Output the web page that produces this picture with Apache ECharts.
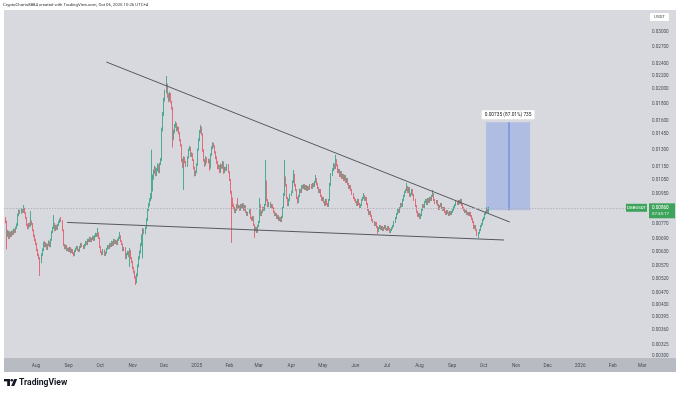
<!DOCTYPE html>
<html><head><meta charset="utf-8">
<script src="https://cdn.jsdelivr.net/npm/echarts@6/dist/echarts.min.js"></script>
<style>html,body{margin:0;padding:0;background:#fff}#c{width:680px;height:395px}</style>
</head><body><div id="c"></div>
<script>
// ---- data (prices in units of 0.00001 USDT), daily candles from 2024-07-03 ----
const firstDate = '2024-07-03';
const firstOpen = 795;
const closes = [].concat(
 [778,709,724,694,719,704,724,714,734,724,745,761,817,841,829,847,835,853,829,800,761,745,767,756,778,767,734,704,684],
 [665,637,615,602,585,615,637,670,655,665,642,660,674,655,684,724,745,767,734,756,740,761,778,789,783,734,660,646,655,637,642],
 [633,646,628,637,624,615,633,642,651,637,633,651,665,655,646,660,674,665,684,679,694,679,689,699,684,704,714,704,719,694],
 [651,628,619,637,615,624,642,655,646,665,655,674,660,684,670,679,665,684,694,704,679,665,637,646,602,619,628,611,633,602,585],
 [561,545,526,507,533,569,602,628,660,704,734,719,745,789,847,877,909,922,976,1063,1109,1141,1086,1125,1166,1109,1174,1208,1495,1663],
 [1850,1959,2058,1904,1850,1931,1824,1748,1412,1474,1538,1560,1495,1516,1464,1392,1344,1208,1166,1226,1191,1158,1226,1297,1316,1243,1261,1208,1141,1086,1109],
 [1166,1297,1392,1474,1516,1453,1297,1208,1166,1226,1191,1208,1141,1252,1316,1353,1334,1279,1226,1191,1141,1158,1109,1166,1141,1191,1109,1141,1125,1166,1109],
 [1048,962,909,877,859,835,847,877,859,871,847,877,859,883,847,871,835,817,829,847,800,789,806,761,734,745,724,756],
 [778,877,817,835,859,847,877,1033,909,871,890,865,877,859,835,817,823,800,811,789,800,783,806,859,942,1063,1011,922,877,909,942],
 [962,1033,1086,1011,976,922,896,935,976,962,1004,990,1011,983,1004,976,997,983,1011,990,1018,1004,1033,1056,1018,990,962,976,935,909],
 [922,896,877,909,883,871,909,1011,1086,1125,1166,1141,1208,1166,1109,1125,1078,1109,1063,1086,1048,1078,1033,1056,1018,990,1004,976,949,922,909],
 [896,877,909,883,865,877,909,922,935,909,922,883,847,823,835,811,789,778,761,772,750,729,745,756,740,750,734,745,756,740],
 [734,750,740,724,734,745,756,778,800,823,847,835,859,883,871,909,935,962,976,997,962,990,935,949,976,942,909,871,835,811,823],
 [800,817,847,877,865,896,909,883,916,896,922,909,935,949,909,890,903,877,853,871,883,859,847,859,835,823,841,829,817,835,823],
 [835,847,865,877,896,883,903,890,909,877,859,847,835,841,823,829,817,829,811,794,778,745,756,734,714,719,734,756,767,789],
 [800,823,835,853,835,860]
);
const highs = [].concat(
 [805,785,735,730,728,726,732,731,742,740,752,770,825,850,848,856,852,877,860,834,805,768,772,774,840,785,772,738,710],
 [690,670,642,620,606,622,644,676,678,672,668,666,682,678,690,730,752,817,772,762,762,768,785,797,806,788,738,665,662,660,648],
 [648,652,650,643,641,628,638,648,656,655,642,656,670,669,660,665,680,678,690,690,700,698,695,705,703,710,720,718,745,722],
 [698,655,632,642,640,630,647,660,659,670,669,680,678,690,688,685,683,690,700,724,708,683,668,651,650,624,633,632,646,637,606],
 [590,566,550,530,540,575,610,635,668,712,745,742,752,798,856,890,920,955,1300,1090,1130,1160,1150,1140,1180,1172,1185,1225,1520,1700],
 [1880,1990,2195,2080,1940,1960,1945,1840,1760,1500,1560,1590,1575,1535,1530,1475,1400,1350,1220,1240,1235,1200,1240,1310,1335,1325,1275,1268,1215,1150,1120],
 [1180,1310,1410,1495,1549,1530,1460,1305,1215,1240,1232,1220,1215,1265,1330,1370,1365,1340,1285,1240,1200,1170,1165,1178,1172,1200,1195,1150,1150,1175,1172],
 [1115,1055,970,925,885,866,855,884,922,878,876,884,883,890,888,877,876,840,835,853,851,806,812,810,765,752,750,762],
 [784,922,882,842,866,865,884,1208,1045,915,897,896,884,882,864,840,830,828,818,816,806,805,812,866,955,1208,1075,1018,928,918,950],
 [970,1045,1125,1095,1018,982,930,942,985,983,1011,1011,1018,1018,1011,1011,1004,1004,1018,1018,1026,1026,1041,1086,1063,1026,997,983,983,942],
 [929,929,903,916,916,890,916,1026,1100,1140,1183,1175,1252,1215,1172,1135,1133,1117,1115,1094,1094,1086,1086,1063,1063,1026,1011,1011,983,955,929],
 [916,903,916,916,890,883,916,929,955,942,929,929,890,853,841,841,817,794,783,778,778,756,750,761,761,756,756,750,761,761],
 [745,756,756,745,740,750,761,783,806,829,853,853,865,890,890,916,942,969,983,1026,1004,997,997,955,983,983,949,916,877,841,829],
 [829,823,853,883,883,903,916,916,922,922,929,929,942,976,955,916,909,909,883,877,890,890,865,865,865,841,847,847,835,841,841],
 [841,853,871,883,903,903,909,909,916,916,883,865,853,847,847,835,835,835,835,817,800,783,761,761,740,724,740,761,772,794],
 [806,829,841,865,859,866]
);
const lows = [].concat(
 [770,640,700,688,690,698,700,708,710,718,720,740,755,810,822,824,828,830,824,795,755,738,740,750,752,760,728,698,678],
 [660,632,610,596,530,580,610,632,650,650,638,637,655,650,650,680,718,740,728,730,734,735,756,772,776,728,655,640,641,632,632],
 [628,628,622,624,619,608,611,628,638,633,628,629,646,650,641,642,655,660,660,674,674,674,674,684,679,680,698,699,700,689],
 [646,623,613,615,611,610,620,638,641,642,650,651,655,656,665,665,660,660,680,689,674,660,632,632,597,598,614,606,565,597,580],
 [556,540,520,497,503,528,564,596,622,655,600,712,712,740,782,840,870,900,915,965,1050,1095,1075,1078,1115,1100,1100,1165,1200,1480],
 [1650,1830,1940,1880,1820,1835,1810,1730,1320,1390,1460,1520,1480,1480,1450,1380,1330,1190,1140,976,1180,1150,1150,1220,1290,1235,1235,1200,1130,1075,1078],
 [1100,1160,1290,1380,1460,1440,1280,1195,1150,1160,1180,1180,1120,1135,1245,1305,1320,1265,1215,1175,1130,1132,1100,1102,1135,1135,1095,1100,1118,1118,1100],
 [1040,950,670,865,850,828,828,842,853,852,841,842,853,854,842,842,829,811,812,824,794,783,784,756,694,728,719,719],
 [750,772,811,811,829,841,842,871,900,862,865,859,859,853,829,811,811,794,794,783,783,777,778,800,853,935,1000,915,870,870,902],
 [935,955,1025,1000,968,915,885,890,928,955,955,983,983,976,976,969,969,976,976,983,983,997,997,1026,1011,983,955,955,929,903],
 [903,890,871,871,877,865,865,903,1004,1078,1117,1130,1133,1155,1100,1100,1070,1070,1055,1056,1041,1041,1026,1026,1011,983,983,969,942,916,903],
 [890,871,871,877,859,859,871,903,916,903,903,877,841,817,817,806,783,772,756,756,745,714,724,740,734,734,729,729,740,734],
 [729,729,734,719,719,729,740,750,772,794,817,829,829,853,865,865,903,929,955,969,955,955,929,929,942,935,903,865,829,806,806],
 [794,794,811,841,859,859,890,877,877,890,890,903,903,929,903,883,883,871,847,847,865,853,841,841,829,817,817,823,811,811,817],
 [817,829,841,859,871,877,877,883,883,871,853,841,829,829,817,817,811,811,806,789,772,740,740,729,704,694,714,729,750,761],
 [783,794,817,829,829,829]
);
const priceUnit = 0.00001;

// axis ticks
const priceTicks = [0.03000,0.02700,0.02400,0.02200,0.02000,0.01800,0.01600,0.01450,0.01300,0.01150,0.01050,0.00950,0.00770,0.00690,0.00630,0.00570,0.00520,0.00470,0.00430,0.00395,0.00360,0.00325,0.00300];
const monthTickDates = ['2024-08-01','2024-09-01','2024-10-01','2024-11-01','2024-12-01','2025-01-01','2025-02-01','2025-03-01','2025-04-01','2025-05-01','2025-06-01','2025-07-01','2025-08-01','2025-09-01','2025-10-01','2025-11-01','2025-12-01','2026-01-01','2026-02-01','2026-03-01'];
const monthTickLabels = ['Aug','Sep','Oct','Nov','Dec','2025','Feb','Mar','Apr','May','Jun','Jul','Aug','Sep','Oct','Nov','Dec','2026','Feb','Mar'];

// drawings
const upperLineDates = ['2024-10-07T00:00Z','2025-10-26T00:00Z'];
const upperLinePrices = [0.02424, 0.00777];
const lowerLineDates = ['2024-08-30T12:00Z','2025-10-20T12:00Z'];
const lowerLinePrices = [0.00775, 0.00684];
const boxDates = ['2025-10-03T10:00Z','2025-11-14T08:00Z'];
const boxMidDate = '2025-10-25T06:00Z';
const boxPrices = [0.00845, 0.01580];
const boxLabel = '0.00735 (87.01%) 735';
const currentPrice = 0.00860;
const symbolName = 'DGBUSDT';
const countdown = '07:33:17';
const xRange = ['2024-07-01T13:00Z','2026-03-05T14:00Z'];
const yRange = [0.0029566, 0.035085];

// ---- build ----
const DAY = 86400000;
const t0 = Date.parse(firstDate + 'T00:00Z');
const L = Math.log;
const candles = closes.map((c, i) => {
  const o = i ? closes[i - 1] : firstOpen;
  const h = Math.max(highs[i], o, c), l = Math.min(lows[i], o, c);
  return [t0 + i * DAY, L(o * priceUnit), L(c * priceUnit), L(l * priceUnit), L(h * priceUnit)];
});
const tickTimes = monthTickDates.map(d => Date.parse(d + 'T00:00Z'));
const tp = d => Date.parse(d);
const monthLabel = v => {
  let best = -1, bd = Infinity;
  tickTimes.forEach((t, k) => { const d = Math.abs(t - v); if (d < bd) { bd = d; best = k; } });
  return bd < DAY ? monthTickLabels[best] : '';
};

const chart = echarts.init(document.getElementById('c'));
const baseGraphic = [
  {type:'rect', id:'panel', z:-10, shape:{x:4,y:10,width:672,height:362}, style:{fill:'#d7d9de'}},
  {type:'rect', id:'band', z:-9, shape:{x:4,y:358,width:672,height:14}, style:{fill:'#b8bbc2'}},
  {type:'text', id:'hdr', z:100, style:{x:3,y:5,text:'CryptoCharts8884 created with TradingView.com, Oct 06, 2025 10:26 UTC+4',fontSize:4.3,fontFamily:'Roboto',fill:'#333',verticalAlign:'middle'}},
  {type:'rect', id:'usdtbg', z:100, shape:{x:650,y:13,width:19,height:8,r:1}, style:{fill:'#ffffff'}},
  {type:'text', id:'usdt', z:101, style:{x:659.5,y:17,text:'USDT',fontSize:4.4,fontFamily:'Roboto',fill:'#444',align:'center',verticalAlign:'middle'}},
  {type:'rect', id:'lg1', z:100, shape:{x:4,y:379,width:6,height:2.4}, style:{fill:'#131722'}},
  {type:'rect', id:'lg2', z:100, shape:{x:7.2,y:379,width:2.8,height:7}, style:{fill:'#131722'}},
  {type:'circle', id:'lg3', z:100, shape:{cx:11.8,cy:380.3,r:1.3}, style:{fill:'#131722'}},
  {type:'polygon', id:'lg4', z:100, shape:{points:[[14.2,379],[17.2,379],[14.2,386],[11.2,386]]}, style:{fill:'#131722'}},
  {type:'text', id:'tv', z:100, style:{x:19,y:383,text:'TradingView',fontSize:8.6,fontWeight:'bold',fontFamily:'Roboto',fill:'#131722',verticalAlign:'middle'}}
];

chart.setOption({
  animation:false,
  backgroundColor:'#ffffff',
  grid:{left:4,right:33,top:10,bottom:37,show:false},
  xAxis:{type:'value', min:tp(xRange[0]), max:tp(xRange[1]),
    axisLine:{show:false}, axisTick:{show:false}, splitLine:{show:false},
    axisLabel:{customValues:tickTimes, fontSize:4.8, fontFamily:'Roboto', color:'#4a4d57', margin:5, hideOverlap:false,
      formatter:monthLabel}},
  yAxis:{type:'value', position:'right', min:L(yRange[0]), max:L(yRange[1]),
    axisLine:{show:false}, axisTick:{show:false}, splitLine:{show:false},
    axisLabel:{customValues:priceTicks.map(L), fontSize:4.6, fontFamily:'Roboto', color:'#4a4d57', margin:5, align:'left',
      formatter:(v)=>Math.exp(v).toFixed(5)}},
  graphic: baseGraphic,
  series:[
    {type:'candlestick', name:symbolName, data:candles, barWidth:0.9,
     itemStyle:{color:'#2a9e80', color0:'#e2525f', borderColor:'#2a9e80', borderColor0:'#e2525f', borderWidth:0.8},
     markLine:{silent:true, symbol:['none','none'], label:{show:false},
       lineStyle:{color:'#b0b5bc', type:[1.5,1.5], width:1},
       data:[{yAxis:L(currentPrice)}]},
     markArea:{silent:true,
       itemStyle:{color:'rgba(52,100,240,0.24)'},
       label:{show:true, position:'top', distance:3, formatter:boxLabel, fontSize:4.8, fontFamily:'Roboto', color:'#222',
              backgroundColor:'#ffffff', padding:[2,3], borderRadius:1},
       data:[[{coord:[tp(boxDates[0]), L(boxPrices[0])]},{coord:[tp(boxDates[1]), L(boxPrices[1])]}]]}},
    {type:'line', data:upperLineDates.map((d,i)=>[tp(d), L(upperLinePrices[i])]), symbol:'none', silent:true,
     lineStyle:{color:'#55585f', width:1}},
    {type:'line', data:lowerLineDates.map((d,i)=>[tp(d), L(lowerLinePrices[i])]), symbol:'none', silent:true,
     lineStyle:{color:'#55585f', width:1}},
    {type:'line', data:[[tp(boxMidDate), L(boxPrices[0])],[tp(boxMidDate), L(boxPrices[1])]], symbol:'none', silent:true,
     lineStyle:{color:'#5a78d8', width:1}}
  ]
});

// price / symbol labels anchored to the current price on the axis
const py = chart.convertToPixel({yAxisIndex:0}, L(currentPrice));
chart.setOption({graphic: baseGraphic.concat([
  {type:'rect', id:'symbg', z:100, shape:{x:626,y:py-4,width:21,height:8}, style:{fill:'#3fa45b'}},
  {type:'text', id:'sym', z:101, style:{x:636.5,y:py,text:symbolName,fontSize:4.3,fontFamily:'Roboto',fill:'#fff',align:'center',verticalAlign:'middle'}},
  {type:'rect', id:'pbg', z:100, shape:{x:649,y:py-4.5,width:26,height:15}, style:{fill:'#3fa45b'}},
  {type:'text', id:'pv', z:101, style:{x:652,y:py,text:currentPrice.toFixed(5),fontSize:4.6,fontFamily:'Roboto',fill:'#fff',verticalAlign:'middle'}},
  {type:'text', id:'cd', z:101, style:{x:652,y:py+6,text:countdown,fontSize:4.4,fontFamily:'Roboto',fill:'#e8f5e9',verticalAlign:'middle'}}
])});
</script></body></html>
